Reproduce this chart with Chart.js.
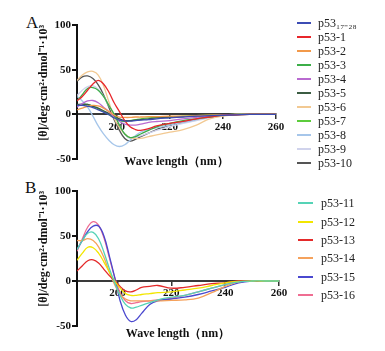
<!DOCTYPE html>
<html lang="en">
<head>
  <meta charset="UTF-8">
  <title>CD spectra of p53 peptides</title>
  <script src="https://cdn.jsdelivr.net/npm/chart.js"></script>
  <style>
    body { margin: 0; background: #fff; font-family: 'Liberation Serif', 'Times New Roman', serif; }
    .wrap { position: relative; width: 385px; height: 351px; overflow: hidden; }
    canvas { position: absolute; left: 0; }
    #chartA { top: 0; }
    #chartB { top: 175px; }
    .panel { position: absolute; font-size: 17px; line-height: 20px; color: #111; }
    .item { position: absolute; height: 14px; font-size: 12px; color: #222; white-space: nowrap; }
    .item i { position: absolute; left: 0; top: 6px; height: 2px; }
    .item span { position: absolute; top: 0; line-height: 14px; }
  </style>
</head>
<body>
  <div class="wrap" id="wrap">
    <div class="panel" style="left:26px; top:13px;">A</div>
    <div class="panel" style="left:25px; top:178px;">B</div>
    <canvas id="chartA" width="385" height="175"></canvas>
    <canvas id="chartB" width="385" height="176"></canvas>
  </div>
  <script>
    // wavelength (nm) sample points, shared by every curve
    const WAVELENGTH = [185, 187, 189, 191, 193, 195, 197, 199, 201, 203, 205, 207, 209, 212, 215, 220, 225, 230, 235, 240, 245, 250, 255, 260];
    const X_TICKS = [200, 220, 240, 260];
    const Y_TICKS = [-50, 0, 50, 100];

    // panel A  ([θ] x 10^3)
    const LABELS_A = ['p53₁₇₋₂₈', 'p53-1', 'p53-2', 'p53-3', 'p53-4', 'p53-5', 'p53-6', 'p53-7', 'p53-8', 'p53-9', 'p53-10'];
    const P53_17_28 = [10, 10, 9, 7.5, 5, 2.5, -0.5, -4, -6.5, -7.5, -7.5, -7, -6.5, -6, -5, -4, -3, -2, -1.5, -1, -0.5, 0, 0, 0];
    const P53_1 = [15, 20, 27, 34, 38, 34, 25, 13, 3, -7, -14, -17, -18, -16, -13, -10, -8, -5, -3, -1, -0.5, 0, 0, 0];
    const P53_2 = [5, 7, 9, 10, 9.5, 7, 3, -1, -3, -3.5, -3.5, -3, -3, -2.5, -2.5, -2, -2, -1.5, -1, -0.5, 0, 0, 0, 0];
    const P53_3 = [15, 22, 29, 30, 27, 20, 10, 0, -12, -22, -26, -25, -22, -18, -14, -10, -7, -5, -3, -1, 0, 0, 0, 0];
    const P53_4 = [8, 12, 15, 15.5, 13, 8, 3, -3, -8, -11, -12, -12, -11, -9, -8, -7, -5, -3.5, -2, -1, 0, 0, 0, 0];
    const P53_5 = [11, 11.5, 11, 9, 7, 4, 1, -2, -5, -7, -7, -6.5, -6, -5, -4, -3, -2.5, -2, -1.5, -1, -0.5, 0, 0, 0];
    const P53_6 = [38, 44, 47.5, 48, 44, 32, 14, -4, -15, -22, -26, -27, -27, -25, -23, -20, -17, -12, -5, -2, -0.5, 0, 0, 0];
    const P53_7 = [10, 11, 11, 9, 6, 3, 0, -4, -7, -8, -7, -6, -5, -4, -3.5, -3, -2, -1.5, -1, -0.5, 0, 0, 0, 0];
    const P53_8 = [20, 15, 8, -2, -13, -22, -29, -34, -36, -34, -29, -24, -20, -17, -15, -12, -9, -6, -3, -1, 0, 0, 0, 0];
    const P53_9 = [21, 27, 31, 32, 28, 20, 10, 0, -12, -22, -27, -26, -24, -21, -18, -14, -10, -7, -4, -1.5, 0, 0, 0, 0];
    const P53_10 = [37, 42, 43, 40, 33, 22, 8, -6, -18, -27, -30, -28, -25, -21, -17, -12, -9, -6, -3, -1, 0, 0, 0, 0];
    const COLORS_A = ['#3c4cb4', '#e8262b', '#f2994a', '#3cae48', '#b96ad0', '#3b5c42', '#f2c992', '#5ccc3c', '#a6c6ea', '#d0d3ec', '#555555'];

    // panel B
    const LABELS_B = ['p53-11', 'p53-12', 'p53-13', 'p53-14', 'p53-15', 'p53-16'];
    const P53_11 = [35, 45, 53, 54, 47, 32, 14, -2, -16, -26, -30, -29, -27, -24, -21, -18, -16, -12, -8, -4, -1, 0, 0, 0];
    const P53_12 = [23, 31, 37.5, 37, 31, 21, 10, 0, -8, -14, -16, -16, -15, -14, -13, -12, -10, -8, -5, -2, -0.5, 0, 0, 0];
    const P53_13 = [11, 17, 22.5, 23.5, 20, 13, 6, 0, -6, -11, -12, -10, -7, -6, -5, -8, -7, -5, -3, -2, 0, 0, -0.5, 0];
    const P53_14 = [45, 45, 47, 45, 38, 26, 10, -4, -15, -20, -22, -22, -22, -22, -22, -21.5, -21, -19, -13, -6, -1, 0, 0, 0];
    const P53_15 = [35, 45, 55, 61, 61, 50, 28, 4, -22, -38, -45, -43, -36, -26, -22, -20, -18, -15, -11, -7, -2, 0, 0, 0];
    const P53_16 = [33, 47, 60, 66, 62, 48, 26, 4, -13, -22, -25, -24, -23, -22, -21, -19, -16, -12, -8, -4, -1, 0, 0, 0];
    const COLORS_B = ['#55d3b6', '#f2e600', '#e42a2a', '#f5a25c', '#4a48cf', '#ef6d92'];

    const SERIES_A = [P53_17_28, P53_1, P53_2, P53_3, P53_4, P53_5, P53_6, P53_7, P53_8, P53_9, P53_10];
    const SERIES_B = [P53_11, P53_12, P53_13, P53_14, P53_15, P53_16];

    const SERIF = "'Liberation Serif', 'Times New Roman', serif";
    const tickFont = { family: SERIF, size: 11, weight: 'bold' };
    const titleFont = { family: SERIF, size: 12, weight: 'bold' };

    // box: canvas height, chart area top/bottom/right, padding under x title
    function buildChart(id, labels, series, colors, box) {
      const datasets = series.map((vals, i) => ({
        label: labels[i],
        data: vals.map((v, j) => ({ x: WAVELENGTH[j], y: v })),
        borderColor: colors[i],
        borderWidth: 1.3,
        pointRadius: 0,
        tension: 0.4,
        fill: false
      }));
      return new Chart(document.getElementById(id), {
        type: 'line',
        data: { datasets },
        options: {
          responsive: false,
          animation: false,
          layout: { padding: { top: box.top, right: 385 - box.right, left: 0, bottom: 0 } },
          plugins: { legend: { display: false }, tooltip: { enabled: false } },
          scales: {
            x: {
              type: 'linear', min: 185, max: 260, position: { y: 0 },
              afterBuildTicks: s => { s.ticks = X_TICKS.map(v => ({ value: v })); },
              grid: { drawOnChartArea: false, tickLength: 4, color: '#333', lineWidth: 1.5 },
              border: { color: '#3a3a3a', width: 2 },
              ticks: { color: '#111', font: tickFont, padding: 2, maxRotation: 0 }
            },
            xt: {
              axis: 'x', type: 'linear', position: 'bottom', min: 185, max: 260,
              afterFit: s => { s.height = box.h - box.bottom; },
              ticks: { display: false },
              grid: { display: false },
              border: { display: false },
              title: { display: true, text: 'Wave length（nm）', font: titleFont, color: '#111', padding: { top: 0, bottom: box.titlePad } }
            },
            y: {
              min: -50, max: 100,
              afterBuildTicks: s => { s.ticks = Y_TICKS.map(v => ({ value: v })); },
              afterFit: s => { s.width = 77; },
              grid: { drawOnChartArea: false, tickLength: 5, color: '#111', lineWidth: 2 },
              border: { color: '#111', width: 2 },
              ticks: { color: '#111', font: tickFont, padding: 1 },
              title: { display: true, text: '[θ]/deg·cm²·dmol⁻¹·10³', align: 'end', font: titleFont, color: '#111', padding: { top: 37, bottom: 0 } }
            }
          }
        }
      });
    }

    function buildLegend(labels, colors, top, step, lineLeft, lineW, textLeft) {
      const wrap = document.getElementById('wrap');
      labels.forEach((name, i) => {
        const row = document.createElement('div');
        row.className = 'item';
        row.style.left = lineLeft + 'px';
        row.style.top = Math.round(top + i * step - 7) + 'px';
        row.innerHTML = '<i style="width:' + lineW + 'px;background-color:' + colors[i] + '"></i>' +
          '<span style="left:' + (textLeft - lineLeft) + 'px"></span>';
        row.querySelector('span').textContent = name;
        wrap.appendChild(row);
      });
    }

    buildChart('chartA', LABELS_A, SERIES_A, COLORS_A, { h: 175, top: 25, bottom: 159, right: 276, titlePad: 6 });
    buildChart('chartB', LABELS_B, SERIES_B, COLORS_B, { h: 176, top: 16, bottom: 151, right: 279, titlePad: 10 });
    buildLegend(LABELS_A, COLORS_A, 22.7, 14.06, 297, 14, 318);
    buildLegend(LABELS_B, COLORS_B, 203.3, 18.3, 298, 15, 321);
  </script>
</body>
</html>
